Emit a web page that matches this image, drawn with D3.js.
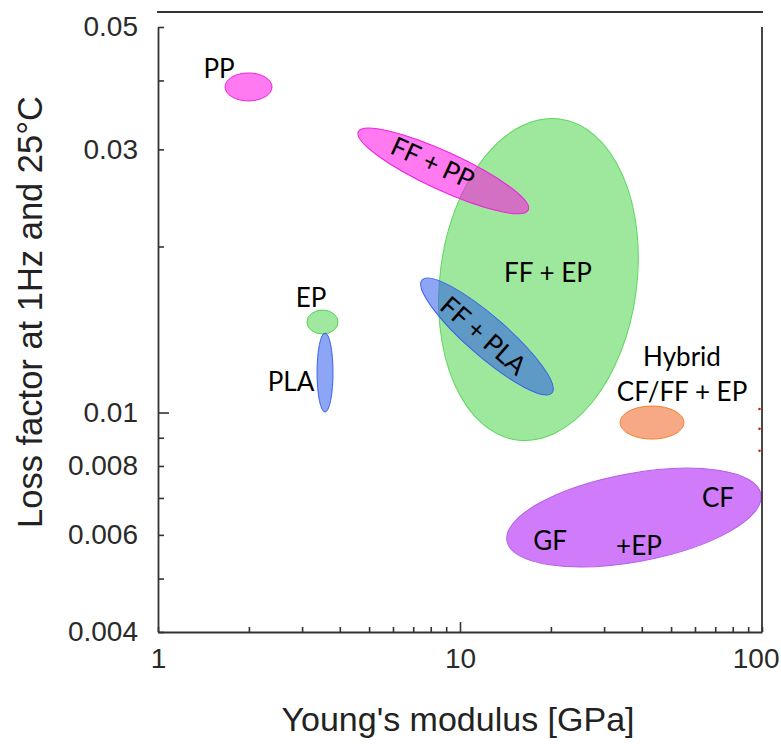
<!DOCTYPE html>
<html><head><meta charset="utf-8">
<script src="https://cdn.jsdelivr.net/npm/d3@7"></script>
<style>
html,body{margin:0;padding:0;background:#fff;}
svg{display:block;}
</style></head>
<body>
<svg id="chart" width="781" height="744"></svg>
<script>
// ---- data ----
const regionNames = ["FF + EP", "EP", "PP", "FF + PP", "PLA", "FF + PLA", "Hybrid CF/FF + EP", "CF/GF + EP"];
// major axis start / end (Young's modulus GPa, loss factor)
const axisStartE    = [21.43, 3.114, 1.667, 4.605, 3.573, 7.485, 33.87, 14.31];
const axisStartLoss = [0.03405, 0.01459, 0.03893, 0.03229, 0.01393, 0.01739, 0.00959, 0.005847];
const axisEndE      = [15.44, 3.945, 2.385, 16.83, 3.573, 20.16, 55.17, 99.2];
const axisEndLoss   = [0.008916, 0.01459, 0.03893, 0.02329, 0.01002, 0.01085, 0.00959, 0.007115];
// a point at the end of the minor axis
const minorE        = [38.26, 3.505, 1.994, 9.352, 3.797, 13.58, 43.23, 35.45];
const minorLoss     = [0.0165, 0.01534, 0.04127, 0.02949, 0.01181, 0.01462, 0.010275, 0.00773];

const labelTexts  = ["PP", "FF + PP", "FF + EP", "FF + PLA", "EP", "PLA", "Hybrid", "CF/FF + EP", "CF", "GF", "+EP"];
const labelE      = [1.592, 8.139, 19.56, 12.01, 3.211, 2.757, 54.34, 54.34, 71.5, 19.86, 39.14];
const labelLoss   = [0.04213, 0.02845, 0.01797, 0.01382, 0.0162, 0.01141, 0.01266, 0.01094, 0.007026, 0.005872, 0.00575];
const labelAlongRegion = [null, 3, null, 5, null, null, null, null, null, null, null];

const xMajorTicks = [1, 10, 100];
const xMinorTicks = [2, 3, 4, 5, 6, 7, 8, 9, 20, 30, 40, 50, 60, 70, 80, 90];
const yTicks = [0.004, 0.005, 0.006, 0.007, 0.008, 0.009, 0.01, 0.02, 0.03, 0.04, 0.05];
const yLabelled = [0.004, 0.006, 0.008, 0.01, 0.03, 0.05];
const yLongTicks = [0.01];

const edgeMarkE = [100, 100, 100];
const edgeMarkLoss = [0.01015, 0.00934, 0.008524];

// ---- styles ----
const fills   = ["#9de89d", "#a0e8a0", "#ff0de4", "#ff0de4", "#2855ec", "#2855ec", "#f7a985", "#d07cfa"];
const opac    = [1, 1, 0.55, 0.55, 0.53, 0.53, 1, 1];
const strokes = ["#5fd65f", "#55d455", "#ee22dd", "#ee22dd", "#3a62ea", "#3a62ea", "#f3822c", "#b45ee8"];

const margin = {left: 158, right: 19, top: 27, bottom: 112};
const W = 781, H = 744;
const svg = d3.select("#chart");

const x = d3.scaleLog().domain([1, 100]).range([margin.left, W - margin.right]);
const y = d3.scaleLog().domain([0.004, 0.05]).range([H - margin.bottom, margin.top]);

const axisColor = "#333";
const tickFont = "'Liberation Sans', Arial, sans-serif";

// ---- regions ----
const regions = regionNames.map((n, i) => {
  const x1 = x(axisStartE[i]), y1 = y(axisStartLoss[i]);
  const x2 = x(axisEndE[i]), y2 = y(axisEndLoss[i]);
  const x3 = x(minorE[i]), y3 = y(minorLoss[i]);
  const dx = x2 - x1, dy = y2 - y1, len = Math.hypot(dx, dy);
  const cx = (x1 + x2) / 2, cy = (y1 + y2) / 2;
  const b = Math.abs(dx * (y3 - y1) - dy * (x3 - x1)) / len;
  return {name: n, cx, cy, rx: len / 2, ry: b, ang: Math.atan2(dy, dx) * 180 / Math.PI, i};
});

svg.append("g").selectAll("ellipse").data(regions).join("ellipse")
  .attr("cx", d => d.cx).attr("cy", d => d.cy)
  .attr("rx", d => d.rx).attr("ry", d => d.ry)
  .attr("transform", d => `rotate(${d.ang},${d.cx},${d.cy})`)
  .attr("fill", d => fills[d.i])
  .attr("fill-opacity", d => opac[d.i])
  .attr("stroke", d => strokes[d.i])
  .attr("stroke-width", 1);

// ---- labels ----
svg.append("g").selectAll("text").data(labelTexts).join("text")
  .attr("transform", (t, i) => {
    const px = x(labelE[i]), py = y(labelLoss[i]);
    const r = labelAlongRegion[i];
    return `translate(${px},${py})` + (r !== null ? ` rotate(${regions[r].ang})` : "");
  })
  .attr("text-anchor", "middle")
  .attr("dominant-baseline", "central")
  .attr("font-family", "Lato, 'Open Sans', sans-serif")
  .attr("font-size", 26)
  .attr("fill", "#000")
  .text(t => t);

// ---- axes ----
const xAxis = d3.axisBottom(x).tickValues(xMajorTicks.concat(xMinorTicks))
  .tickSizeInner(-5).tickSizeOuter(0).tickPadding(16)
  .tickFormat(d => xMajorTicks.includes(d) ? d3.format("d")(d) : "");
const gx = svg.append("g").attr("transform", `translate(0,${H - margin.bottom})`).call(xAxis);
gx.selectAll(".tick line").filter(d => d === 10).attr("y2", -10);
gx.selectAll(".tick text").filter(d => d === 100).attr("text-anchor", "end").attr("x", 17);

const yAxis = d3.axisLeft(y).tickValues(yTicks)
  .tickSizeInner(-6).tickSizeOuter(0).tickPadding(20)
  .tickFormat(d => yLabelled.includes(d) ? String(d) : "");
const gy = svg.append("g").attr("transform", `translate(${margin.left},0)`).call(yAxis);
gy.selectAll(".tick line").filter(d => yLongTicks.includes(d)).attr("x2", 11);

[gx, gy].forEach(g => {
  g.select(".domain").attr("stroke", axisColor).attr("stroke-width", 1.8);
  g.selectAll(".tick line").attr("stroke", axisColor).attr("stroke-width", 1.6);
  g.selectAll(".tick text").attr("font-family", tickFont).attr("font-size", 28).attr("fill", "#2a2a2a");
});

// right frame line and detached top line
svg.append("line")
  .attr("x1", x(100)).attr("x2", x(100))
  .attr("y1", y(0.05)).attr("y2", y(0.004))
  .attr("stroke", axisColor).attr("stroke-width", 1.8);
svg.append("line")
  .attr("x1", x(1) - 1).attr("x2", x(100) + 1)
  .attr("y1", y(0.05) - 15).attr("y2", y(0.05) - 15)
  .attr("stroke", axisColor).attr("stroke-width", 1.8);

// small red marks on the right edge
svg.append("g").selectAll("circle").data(edgeMarkE).join("circle")
  .attr("cx", d => x(d) - 2.5).attr("cy", (d, i) => y(edgeMarkLoss[i]))
  .attr("r", 1.3).attr("fill", "#d62020");

// ---- axis titles ----
svg.append("text")
  .attr("x", (x(1) + x(100)) / 2 - 2).attr("y", 731)
  .attr("text-anchor", "middle")
  .attr("font-family", tickFont).attr("font-size", 34).attr("fill", "#222")
  .text("Young's modulus [GPa]");
svg.append("text")
  .attr("transform", `translate(42,312) rotate(-90)`)
  .attr("text-anchor", "middle")
  .attr("font-family", tickFont).attr("font-size", 34.5).attr("fill", "#222")
  .text("Loss factor at 1Hz and 25°C");
</script>
</body></html>
